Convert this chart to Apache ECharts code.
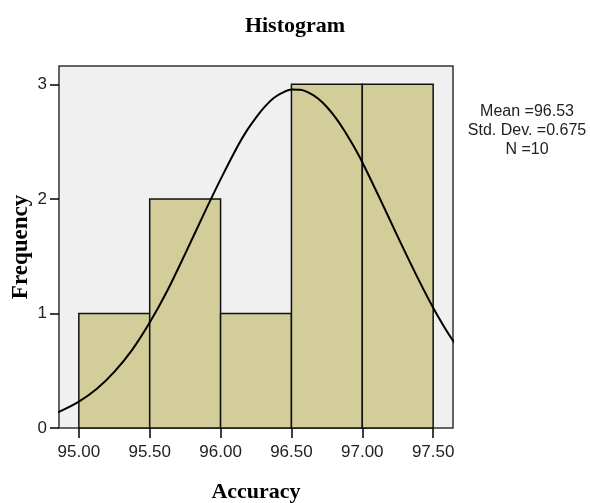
<!DOCTYPE html>
<html>
<head>
<meta charset="utf-8">
<script src="https://cdn.jsdelivr.net/npm/echarts@6/dist/echarts.min.js"></script>
<style>
  html, body { margin: 0; padding: 0; background: #fff; }
  #chart { width: 590px; height: 503px; }
</style>
</head>
<body>
<div id="chart"></div>
<script>
// histogram bins
const binStart = [95.0, 95.5, 96.0, 96.5, 97.0];
const binEnd = [95.5, 96.0, 96.5, 97.0, 97.5];
const counts = [1, 2, 1, 3, 3];

// normal curve (runs past both frame edges, clipped)
const curveX = [94.75, 94.875, 95.0, 95.125, 95.25, 95.375, 95.5, 95.625, 95.75, 95.875, 96.0, 96.125,
  96.1875, 96.25, 96.3125, 96.375, 96.4375, 96.5, 96.5625, 96.625, 96.6875, 96.75, 96.8125, 96.875,
  96.9375, 97.0, 97.125, 97.25, 97.375, 97.5, 97.625, 97.75];
const curveY = [0.09, 0.15, 0.23, 0.34, 0.49, 0.68, 0.92, 1.2, 1.52, 1.85, 2.17, 2.47,
  2.6, 2.71, 2.805, 2.88, 2.927, 2.954, 2.952, 2.926, 2.876, 2.802, 2.707, 2.593,
  2.463, 2.32, 2.0, 1.67, 1.35, 1.05, 0.79, 0.58];

const xTicks = [95.0, 95.5, 96.0, 96.5, 97.0, 97.5];
const yTicks = [0, 1, 2, 3];
const statLines = ['Mean =96.53', 'Std. Dev. =0.675', 'N =10'];

const chart = echarts.init(document.getElementById('chart'));

const serif = "'Liberation Serif', 'Times New Roman', serif";
const sans = "'Liberation Sans', Arial, sans-serif";

const option = {
  animation: false,
  title: {
    text: 'Histogram',
    left: 'center',
    top: 10,
    textStyle: { fontFamily: serif, fontWeight: 'bold', fontSize: 22, color: '#000' },
  },
  grid: {
    left: 59,
    right: 137,
    top: 66,
    bottom: 75,
    outerBoundsMode: 'none',
    containLabel: false,
    show: true,
    backgroundColor: '#f0f0f0',
    borderColor: '#333',
    borderWidth: 1.5,
  },
  xAxis: {
    type: 'value',
    min: 94.86,
    max: 97.64,
    name: 'Accuracy',
    nameLocation: 'middle',
    nameGap: 53,
    nameMoveOverlap: false,
    nameTextStyle: { fontFamily: serif, fontWeight: 'bold', fontSize: 22, color: '#000' },
    splitLine: { show: false },
    axisLine: { show: false },
    axisTick: {
      show: true,
      length: 10,
      customValues: xTicks,
      lineStyle: { color: '#000', width: 1.5 },
    },
    axisLabel: {
      customValues: xTicks,
      margin: 16,
      fontFamily: sans,
      fontSize: 17,
      color: '#222',
      formatter: (v) => Number(v).toFixed(2),
    },
  },
  yAxis: {
    type: 'value',
    min: 0,
    max: 3.16,
    name: 'Frequency',
    nameLocation: 'middle',
    nameGap: 26,
    nameMoveOverlap: false,
    nameTextStyle: { fontFamily: serif, fontWeight: 'bold', fontSize: 23, color: '#000' },
    splitLine: { show: false },
    axisLine: { show: false },
    axisTick: {
      show: true,
      length: 9,
      customValues: yTicks,
      lineStyle: { color: '#000', width: 1.5 },
    },
    axisLabel: {
      customValues: yTicks,
      margin: 12,
      fontFamily: sans,
      fontSize: 17,
      color: '#222',
    },
  },
  graphic: [
    {
      type: 'text',
      x: 527,
      y: 102,
      style: {
        text: statLines.join('\n'),
        fontFamily: sans,
        fontSize: 16,
        lineHeight: 19,
        fill: '#222',
        align: 'center',
        verticalAlign: 'top',
      },
    },
  ],
  series: [
    {
      type: 'custom',
      data: binStart.map((s, i) => [s, binEnd[i], counts[i]]),
      renderItem: (params, api) => {
        const p0 = api.coord([api.value(0), api.value(2)]);
        const p1 = api.coord([api.value(1), 0]);
        return {
          type: 'rect',
          shape: { x: p0[0], y: p0[1], width: p1[0] - p0[0], height: p1[1] - p0[1] },
          style: { fill: '#d3ce99', stroke: '#111', lineWidth: 1.5 },
        };
      },
      z: 2,
    },
    {
      type: 'line',
      data: curveX.map((x, i) => [x, curveY[i]]),
      smooth: 0.3,
      symbol: 'none',
      clip: true,
      lineStyle: { color: '#000', width: 2 },
      z: 3,
    },
  ],
};

chart.setOption(option);
</script>
</body>
</html>
